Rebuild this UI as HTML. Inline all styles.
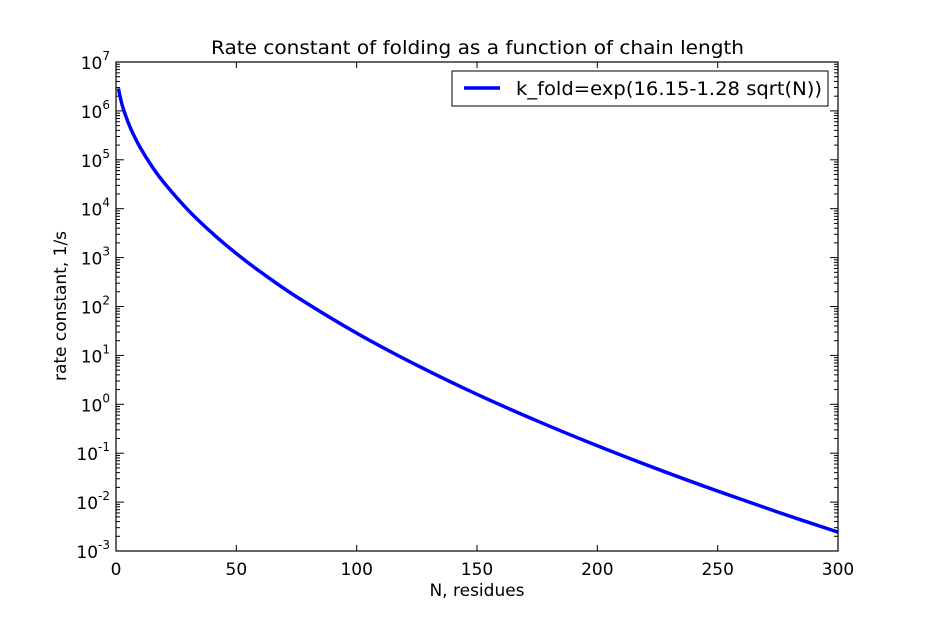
<!DOCTYPE html>
<html><head><meta charset="utf-8"><style>
body{margin:0;background:#fff}
text{font-family:"DejaVu Sans","Liberation Sans",sans-serif;fill:#000}
</style></head><body>
<svg width="931" height="612" xmlns="http://www.w3.org/2000/svg">
<rect width="931" height="612" fill="#fff"/>
<text x="211" y="54" font-size="19" textLength="533" lengthAdjust="spacingAndGlyphs">Rate constant of folding as a function of chain length</text>
<g id="ticks"></g>
<path id="curve" fill="none" stroke="#0000ff" stroke-width="3.5" stroke-linejoin="round"/>
<rect x="116" y="62" width="722" height="489" fill="none" stroke="#000" stroke-width="1.2"/>
<text x="477" y="596" font-size="17" text-anchor="middle">N, residues</text>
<text transform="translate(66,306) rotate(-90)" font-size="17" text-anchor="middle">rate constant, 1/s</text>
<g>
<rect x="452" y="71" width="376" height="35" fill="#fff" stroke="#000" stroke-width="1"/>
<line x1="464" y1="88" x2="500" y2="88" stroke="#0000ff" stroke-width="3.5"/>
<text x="516" y="95" font-size="19" textLength="306" lengthAdjust="spacingAndGlyphs">k_fold=exp(16.15-1.28 sqrt(N))</text>
</g>
</svg>
<script>
const nValues=[1,2,3,5,7,10,15,20,30,40,50,60,75,100,125,150,175,200,225,250,275,300];
const kValues=[2.87e6,1.69e6,1.12e6,5.9e5,3.49e5,1.80e5,7.26e4,3.37e4,9.31e3,3.15e3,1.21e3,511,158,28.5,6.29,1.60,0.457,0.142,0.0474,0.0168,0.00624,0.00243];
const xTicks=[0,50,100,150,200,250,300];
const yExps=[-3,-2,-1,0,1,2,3,4,5,6,7];
const X0=116,X1=838,Y0=551,Y1=62;
const xs=v=>X0+(v-0)/(300-0)*(X1-X0);
const ys=v=>Y0-(Math.log10(v)+3)/10*(Y0-Y1);
const ns="http://www.w3.org/2000/svg";
const g=document.getElementById('ticks');
function line(x1,y1,x2,y2){const l=document.createElementNS(ns,'line');l.setAttribute('x1',x1);l.setAttribute('y1',y1);l.setAttribute('x2',x2);l.setAttribute('y2',y2);l.setAttribute('stroke','#000');l.setAttribute('stroke-width','1');


g.appendChild(l);}
xTicks.forEach(t=>{const x=xs(t);line(x,Y0,x,Y0-6);line(x,Y1,x,Y1+6);
const tx=document.createElementNS(ns,'text');tx.setAttribute('x',x);tx.setAttribute('y',Y0+24);tx.setAttribute('font-size','17');tx.setAttribute('text-anchor','middle');tx.textContent=t;


g.appendChild(tx);});
yExps.forEach(e=>{const y=ys(Math.pow(10,e));line(X0,y,X0+8,y);line(X1,y,X1-8,y);
if(e<7){for(let m=2;m<10;m++){const yy=ys(m*Math.pow(10,e));line(X0,yy,X0+4,yy);line(X1,yy,X1-4,yy);}}
const tx=document.createElementNS(ns,'text');tx.setAttribute('x',X0-6);tx.setAttribute('y',y+7);tx.setAttribute('font-size','17');tx.setAttribute('text-anchor','end');


tx.innerHTML='10<tspan dy="-9" font-size="12">'+e+'</tspan>';g.appendChild(tx);});
const pts=nValues.map((n,i)=>[xs(n),ys(kValues[i])]);
let d='M'+pts[0][0]+','+pts[0][1];
for(let i=0;i<pts.length-1;i++){const p0=pts[Math.max(0,i-1)],p1=pts[i],p2=pts[i+1],p3=pts[Math.min(pts.length-1,i+2)];
d+=' C'+(p1[0]+(p2[0]-p0[0])/6)+','+(p1[1]+(p2[1]-p0[1])/6)+' '+(p2[0]-(p3[0]-p1[0])/6)+','+(p2[1]-(p3[1]-p1[1])/6)+' '+p2[0]+','+p2[1];}
document.getElementById('curve').setAttribute('d',d);
</script>
</body></html>
